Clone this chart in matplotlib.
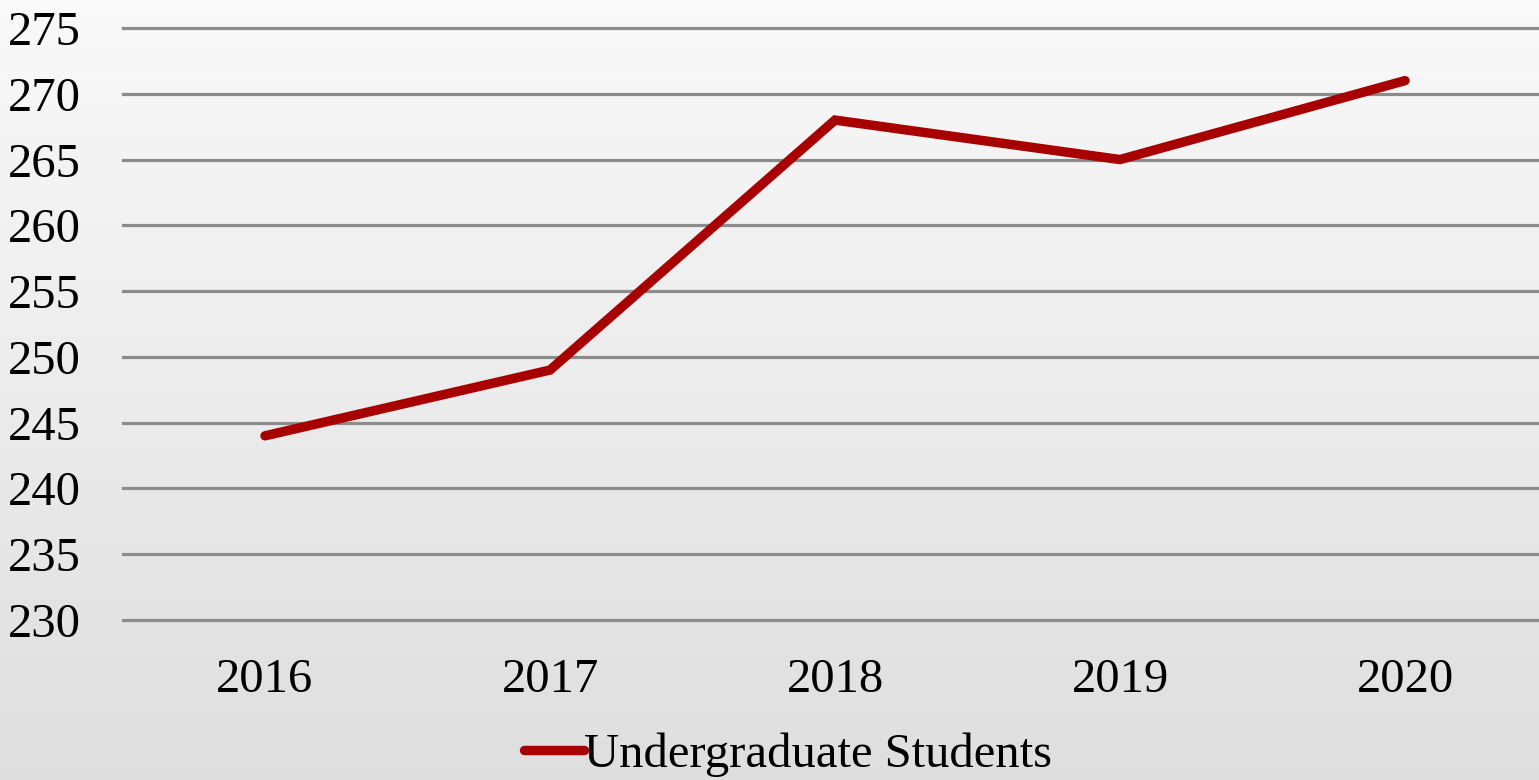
import matplotlib.pyplot as plt
import numpy as np

# enrolment by year
years = ['2016', '2017', '2018', '2019', '2020']
undergrads = [244, 249, 268, 265, 271]

plt.rcParams['font.family'] = ['Liberation Serif', 'DejaVu Serif']

W, H = 1539, 780
fig = plt.figure(figsize=(W / 100, H / 100), dpi=100)

# soft grey paper backdrop, lighter at the top
bg = fig.add_axes([0, 0, 1, 1], zorder=-10)
grad = np.linspace(0.975, 0.87, 200).reshape(-1, 1)
bg.imshow(grad, cmap='gray', vmin=0, vmax=1, aspect='auto', extent=[0, 1, 0, 1])
bg.axis('off')

ax = fig.add_axes([122.5 / W, (H - 620) / H, 1425 / W, (620 - 28) / H])
ax.patch.set_alpha(0)

x = np.arange(len(years))
ax.plot(x, undergrads, color='#a80000', lw=6.8, solid_capstyle='round',
        solid_joinstyle='miter', label='Undergraduate Students', zorder=3)

ax.set_xlim(-0.5, len(years) - 0.5)
ax.set_ylim(230, 275)
ax.set_yticks(np.arange(230, 276, 5))
ax.set_xticks(x)
ax.set_xticklabels(years)
ax.grid(axis='y', color='#8c8c8c', lw=2.3)
for gl in ax.get_ygridlines():
    gl.set_clip_on(False)
ax.set_axisbelow(True)
for s in ax.spines.values():
    s.set_visible(False)
ax.tick_params(axis='both', length=0, labelsize=35, colors='black')
ax.tick_params(axis='y', pad=30)
ax.tick_params(axis='x', pad=27)

fig.legend(loc='center', bbox_to_anchor=(788 / W, (H - 755) / H), frameon=False,
           fontsize=35, handlelength=1.25, handletextpad=0.0)

fig.savefig('out.png', dpi=100)
